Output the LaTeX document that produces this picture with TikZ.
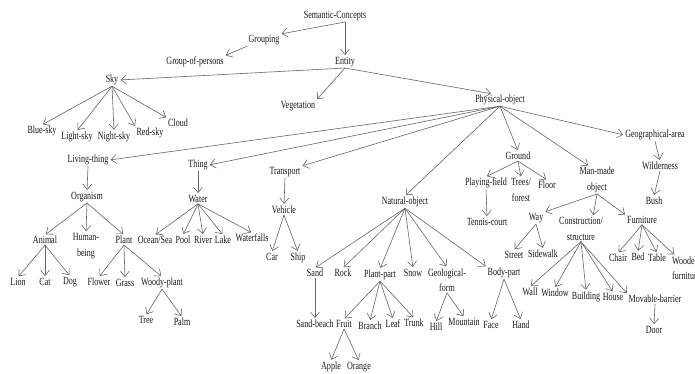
\documentclass[tikz,border=0pt]{standalone}
\usepackage{fontspec}
\setmainfont{Liberation Serif}[FakeStretch=0.73]
\usetikzlibrary{arrows.meta}
\begin{document}
\begin{tikzpicture}[x=1pt,y=-1pt,
  lbl/.style={inner sep=1pt, font=\fontsize{11}{15.5}\selectfont, text=black!90, align=center},
  arr/.style={draw=black!60, line width=0.6pt, -{Straight Barb[length=5.5pt,width=9pt]}, shorten >=1pt},
]
\useasboundingbox[fill=white] (0,0) rectangle (695,374);
\node[lbl] (sc) at (335,16) {Semantic-Concepts};
\node[lbl] (grp) at (264,40) {Grouping};
\node[lbl] (gop) at (195,62) {Group-of-persons};
\node[lbl] (ent) at (345,62) {Entity};
\node[lbl] (sky) at (112,80) {Sky};
\node[lbl] (veg) at (298,106) {Vegetation};
\node[lbl] (po) at (500,100) {Physical-object};
\node[lbl] (blue) at (42,131) {Blue-sky};
\node[lbl] (light) at (77,137) {Light-sky};
\node[lbl] (night) at (114,137) {Night-sky};
\node[lbl] (red) at (150,133) {Red-sky};
\node[lbl] (cloud) at (178,123) {Cloud};
\node[lbl] (lt) at (88,160) {Living-thing};
\node[lbl] (thing) at (198,165) {Thing};
\node[lbl] (trans) at (285,172) {Transport};
\node[lbl] (nat) at (405,202) {Natural-object};
\node[lbl] (ground) at (518,156) {Ground};
\node[lbl] (mm) at (597,180) {Man-made\\object};
\node[lbl] (ga) at (655,135) {Geographical-area};
\node[lbl] (wild) at (660,166) {Wilderness};
\node[lbl] (bush) at (654,201) {Bush};
\node[lbl] (pf) at (486,183) {Playing-field};
\node[lbl] (tf) at (521,190) {Trees/\\forest};
\node[lbl] (floor) at (547,185) {Floor};
\node[lbl] (tc) at (487,222) {Tennis-court};
\node[lbl] (way) at (536,218) {Way};
\node[lbl] (cs) at (581,229) {Construction/\\structure};
\node[lbl] (furn) at (642,220) {Furniture};
\node[lbl] (org) at (87,197) {Organism};
\node[lbl] (water) at (198,199) {Water};
\node[lbl] (veh) at (284,210) {Vehicle};
\node[lbl] (animal) at (45,240) {Animal};
\node[lbl] (human) at (86,246) {Human-\\being};
\node[lbl] (plant) at (124,240) {Plant};
\node[lbl] (ocean) at (155,240) {Ocean/Sea};
\node[lbl] (pool) at (183,240) {Pool};
\node[lbl] (river) at (203,240) {River};
\node[lbl] (lake) at (223,240) {Lake};
\node[lbl] (wf) at (252,238) {Waterfalls};
\node[lbl] (car) at (272,257) {Car};
\node[lbl] (ship) at (298,258) {Ship};
\node[lbl] (lion) at (18,282) {Lion};
\node[lbl] (cat) at (45,282) {Cat};
\node[lbl] (dog) at (70,282) {Dog};
\node[lbl] (flower) at (99,282) {Flower};
\node[lbl] (grass) at (125,283) {Grass};
\node[lbl] (woody) at (162,283) {Woody-plant};
\node[lbl] (tree) at (146,320) {Tree};
\node[lbl] (palm) at (182,322) {Palm};
\node[lbl] (sand) at (315,273) {Sand};
\node[lbl] (rock) at (343,273) {Rock};
\node[lbl] (pp) at (380,275) {Plant-part};
\node[lbl] (snow) at (413,273) {Snow};
\node[lbl] (geo) at (447,280) {Geological-\\form};
\node[lbl] (body) at (504,273) {Body-part};
\node[lbl] (sb) at (315,324) {Sand-beach};
\node[lbl] (fruit) at (344,324) {Fruit};
\node[lbl] (branch) at (370,326) {Branch};
\node[lbl] (leaf) at (393,324) {Leaf};
\node[lbl] (trunk) at (414,323) {Trunk};
\node[lbl] (hill) at (436,327) {Hill};
\node[lbl] (mount) at (464,322) {Mountain};
\node[lbl] (apple) at (331,367) {Apple};
\node[lbl] (orange) at (359,367) {Orange};
\node[lbl] (face) at (491,325) {Face};
\node[lbl] (hand) at (521,325) {Hand};
\node[lbl] (street) at (514,255) {Street};
\node[lbl] (side) at (543,254) {Sidewalk};
\node[lbl] (wall) at (530,292) {Wall};
\node[lbl] (window) at (555,293) {Window};
\node[lbl] (build) at (586,297) {Building};
\node[lbl] (house) at (613,297) {House};
\node[lbl] (mb) at (655,299) {Movable-barrier};
\node[lbl] (door) at (654,330) {Door};
\node[lbl] (chair) at (618,258) {Chair};
\node[lbl] (bed) at (638,257) {Bed};
\node[lbl] (table) at (657,258) {Table};
\node[lbl, anchor=west, align=left] (wood) at (671,268) {Wooden\\furniture};

% edges
\draw[arr] ([xshift=10pt]sc.south) -- (grp.north east);
\draw[arr] ([xshift=10pt]sc.south) -- (ent.north);
\draw[arr] (grp.south west) -- (gop.north east);
\draw[arr] (ent.south) -- (sky.east);
\draw[arr] (ent.south) -- (veg.north east);
\draw[arr] (ent.south) -- ([xshift=-8pt]po.north);
\foreach \c in {blue,light,night} \draw[arr] (sky.south) -- (\c.north);
\draw[arr] (sky.south) -- (red.north west);
\draw[arr] (sky.south) -- (cloud.north west);
\draw[arr] (po.south) -- (lt.east);
\draw[arr] (po.south) -- (thing.east);
\draw[arr] (po.south) -- (trans.north east);
\draw[arr] (po.south) -- (nat.north);
\draw[arr] (po.south) -- (ground.north);
\draw[arr] (po.south) -- ([xshift=-8pt]mm.north);
\draw[arr] (po.south) -- (ga.west);
\draw[arr] (ga.south) -- (wild.north);
\draw[arr] (wild.south) -- (bush.north);
\draw[arr] (lt.south) -- (org.north);
\draw[arr] (thing.south) -- (water.north);
\draw[arr] (trans.south) -- (veh.north);
\foreach \c in {animal,human,plant} \draw[arr] (org.south) -- (\c.north);
\foreach \c in {ocean,pool,river,lake,wf} \draw[arr] (water.south) -- (\c.north);
\foreach \c in {car,ship} \draw[arr] (veh.south) -- (\c.north);
\foreach \c in {lion,cat,dog} \draw[arr] (animal.south) -- (\c.north);
\foreach \c in {flower,grass,woody} \draw[arr] (plant.south) -- (\c.north);
\foreach \c in {tree,palm} \draw[arr] (woody.south) -- (\c.north);
\foreach \c in {sand,rock,pp,snow,geo} \draw[arr] (nat.south) -- (\c.north);
\draw[arr] (nat.south) -- (body.north west);
\draw[arr] (sand.south) -- (sb.north);
\foreach \c in {fruit,branch,leaf,trunk} \draw[arr] (pp.south) -- (\c.north);
\foreach \c in {apple,orange} \draw[arr] (fruit.south) -- (\c.north);
\foreach \c in {hill,mount} \draw[arr] (geo.south) -- (\c.north);
\foreach \c in {face,hand} \draw[arr] (body.south) -- (\c.north);
\foreach \c in {pf,tf,floor} \draw[arr] (ground.south) -- (\c.north);
\draw[arr] (pf.south) -- (tc.north);
\draw[arr] (mm.south) -- (way.north east);
\draw[arr] (mm.south) -- ([xshift=12pt]cs.north);
\draw[arr] (mm.south) -- (furn.north west);
\foreach \c in {street,side} \draw[arr] (way.south) -- (\c.north);
\foreach \c in {wall,window,build,house} \draw[arr] (cs.south) -- (\c.north);
\draw[arr] (cs.south) -- (mb.north west);
\draw[arr] (mb.south) -- (door.north);
\foreach \c in {chair,bed,table} \draw[arr] (furn.south) -- (\c.north);
\draw[arr] (furn.south) -- ([xshift=4pt]wood.north west);
\end{tikzpicture}
\end{document}
